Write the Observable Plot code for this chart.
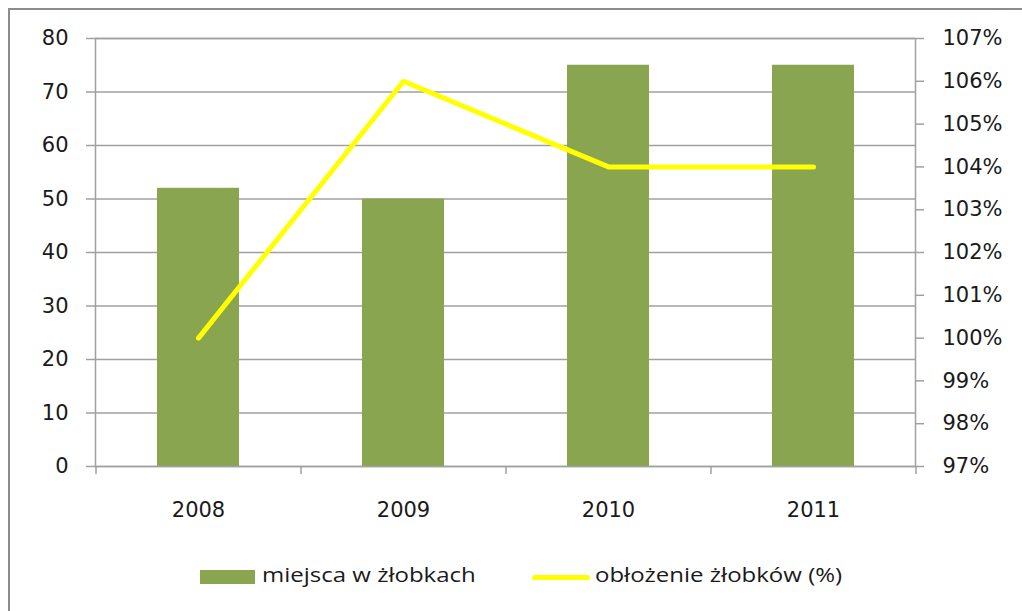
<!DOCTYPE html>
<html><head><meta charset="utf-8">
<script src="https://cdn.jsdelivr.net/npm/d3@7"></script>
<script src="https://cdn.jsdelivr.net/npm/@observablehq/plot@0.6"></script>
<style>
body{margin:0;background:#fff;}
#wrap{position:relative;width:1022px;height:611px;overflow:hidden;background:#fff;}
#border{position:absolute;left:8px;top:8px;width:1040px;height:640px;border:2px solid #8c8c8c;box-sizing:border-box;}
#chart{position:absolute;left:0;top:0;}
.lg{position:absolute;font-family:"Open Sans",sans-serif;font-size:20px;color:#1a1a1a;white-space:nowrap;line-height:1;transform:scaleX(1.2);transform-origin:left center;}
.sw{position:absolute;}
</style>
</head><body>
<div id="wrap">
  <div id="border"></div>
  <div id="chart"></div>
  <div class="sw" id="sw1" style="left:200px;top:570px;width:55px;height:14px;background:#8aa54f;"></div>
  <div class="lg" id="lg1" style="left:262px;top:565px;"></div>
  <div class="sw" id="sw2" style="left:532px;top:575px;width:58px;height:5px;border-radius:2.5px;background:#ffff00;"></div>
  <div class="lg" id="lg2" style="left:595px;top:565px;"></div>
</div>
<script>
const years = ["2008", "2009", "2010", "2011"];
const places = [52, 50, 75, 75];
const occupancy = [100, 106, 104, 104];
const leftTicks = [0, 10, 20, 30, 40, 50, 60, 70, 80];
const rightTicks = [97, 98, 99, 100, 101, 102, 103, 104, 105, 106, 107];
const seriesNames = ["miejsca w żłobkach", "obłożenie żłobków (%)"];

const leftMax = 80, rightMin = 97, rightMax = 107;
const toLeft = p => (p - rightMin) * leftMax / (rightMax - rightMin);
const fromLeft = v => Math.round(v * (rightMax - rightMin) / leftMax + rightMin);

const data = years.map((y, i) => ({year: y, places: places[i], occ: occupancy[i]}));

const W = 1022, H = 530, mL = 95, mR = 107, mT = 38, mB = 64;
const step = (W - mL - mR) / years.length;
const grid = "#a0a0a0";

const plot = Plot.plot({
  width: W, height: H,
  marginLeft: mL, marginRight: mR, marginTop: mT, marginBottom: mB,
  style: {fontFamily: "DejaVu Sans", fontSize: "21px", background: "transparent", color: "#1a1a1a"},
  x: {type: "band", domain: years, paddingInner: 0.6, paddingOuter: 0.3},
  y: {domain: [0, leftMax]},
  marks: [
    Plot.gridY(leftTicks, {stroke: grid, strokeOpacity: 1, strokeWidth: 1.5}),
    Plot.barY(data, {x: "year", y: "places", fill: "#8aa54f"}),
    Plot.frame({stroke: grid, strokeWidth: 1.5}),
    Plot.ruleX(years, {x: d => d, dx: -step / 2, y1: 0, y2: 0, insetBottom: -8, stroke: grid, strokeWidth: 1.5}),
    Plot.ruleX(years.slice(-1), {x: d => d, dx: step / 2, y1: 0, y2: 0, insetBottom: -8, stroke: grid, strokeWidth: 1.5}),
    Plot.line(data, {x: "year", y: d => toLeft(d.occ), stroke: "#ffff00", strokeWidth: 5, strokeLinecap: "round", strokeLinejoin: "miter"}),
    Plot.axisY(leftTicks, {anchor: "left", tickSize: 9, tickPadding: 18, stroke: grid, strokeWidth: 1.5, fill: "#1a1a1a", label: null}),
    Plot.axisY(rightTicks.map(toLeft), {anchor: "right", tickSize: 8, tickPadding: 19, stroke: grid, strokeWidth: 1.5, fill: "#1a1a1a", tickFormat: v => fromLeft(v) + "%", label: null}),
    Plot.axisX({tickSize: 0, tickPadding: 36, fill: "#1a1a1a", label: null})
  ]
});
document.getElementById("chart").appendChild(plot);
document.getElementById("lg1").textContent = seriesNames[0];
document.getElementById("lg2").textContent = seriesNames[1];
</script>
</body></html>
